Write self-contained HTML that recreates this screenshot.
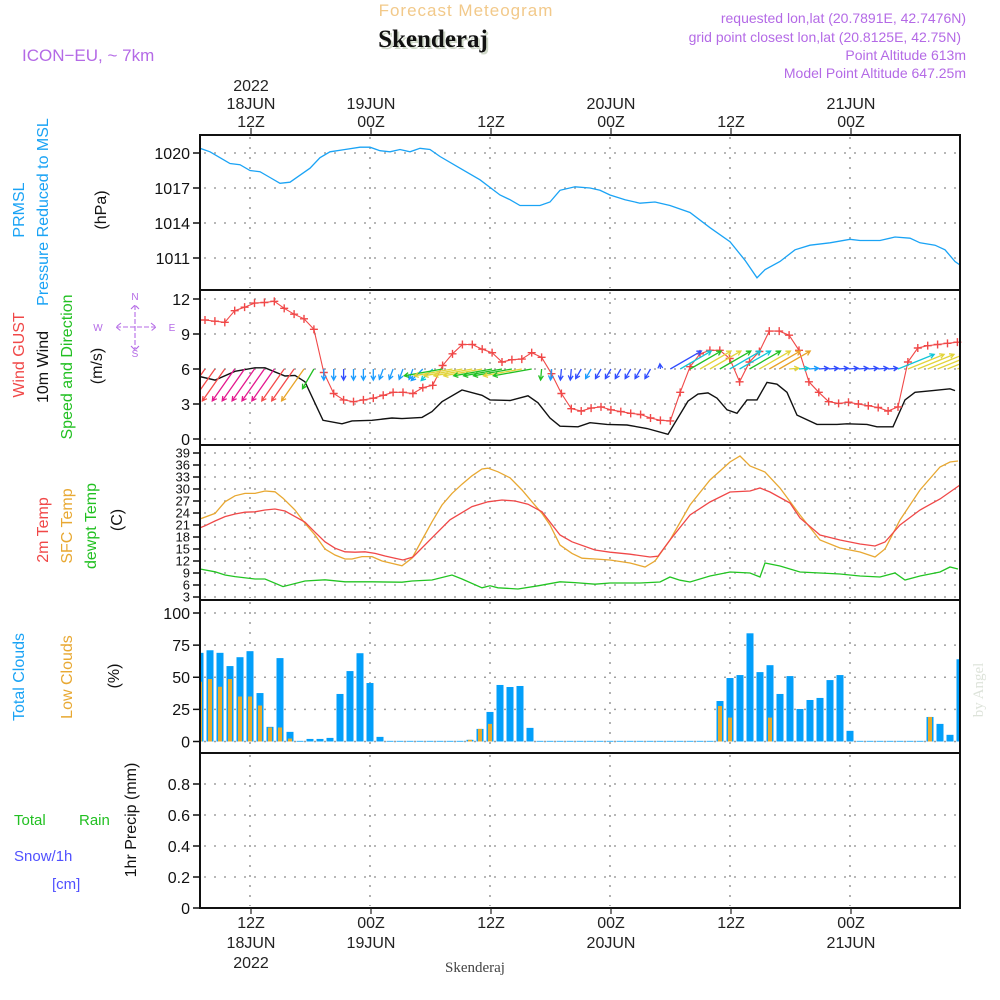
<!DOCTYPE html>
<html><head><meta charset="utf-8">
<style>
html,body{margin:0;padding:0;background:#fff;}
svg{display:block;font-family:"Liberation Sans",sans-serif;}
</style></head>
<body>
<svg id="chart" width="1000" height="1000" viewBox="0 0 1000 1000" xmlns="http://www.w3.org/2000/svg">
<text x="466" y="16" font-size="17" fill="#f2c98a" text-anchor="middle" letter-spacing="1">Forecast Meteogram</text>
<text x="435" y="49" font-size="25" font-weight="bold" fill="#cfd8c8" text-anchor="middle" font-family="Liberation Serif, serif">Skenderaj</text>
<text x="433" y="47" font-size="25" font-weight="bold" fill="#111" text-anchor="middle" font-family="Liberation Serif, serif">Skenderaj</text>
<text x="22" y="61" font-size="17" fill="#b46ae6">ICON−EU, ~ 7km</text>
<g font-size="14" fill="#b46ae6" text-anchor="end">
<text x="966" y="23">requested lon,lat (20.7891E, 42.7476N)</text>
<text x="961" y="42">grid point closest lon,lat (20.8125E, 42.75N)</text>
<text x="966" y="60">Point Altitude 613m</text>
<text x="966" y="78">Model Point Altitude 647.25m</text>
</g>
<g id="layer"></g>
<text x="983" y="690" font-size="15" fill="#dde3da" text-anchor="middle" font-family="Liberation Serif, serif" transform="rotate(-90 983 690)">by Angel</text>
</svg>
<script>
// ---- data (hours since 07Z 18JUN 2022) ----
const timeTickHours = [5, 17, 29, 41, 53, 65];
const topTickLabels = [["2022","18JUN","12Z"],["","19JUN","00Z"],["","","12Z"],["","20JUN","00Z"],["","","12Z"],["","21JUN","00Z"]];
const bottomTickLabels = [["12Z","18JUN","2022"],["00Z","19JUN",""],["12Z","",""],["00Z","20JUN",""],["12Z","",""],["00Z","21JUN",""]];

const pressHours = [0,1,2,3,4,5,6,7,8,9,10,11,12,13,14.5,16,17,18,19,20,21,22,23,24,26,28,30,31,32,33,34,35,36,37.5,39,40,41,42.5,44,45.5,47,49,51,53,54.5,55.7,56.5,58,59.5,61,63,65,66,68,69.5,71,72,73.5,74.5,75.5,76];
const pressVals = [1020.4,1020.1,1019.6,1019.1,1019.0,1018.5,1018.4,1017.9,1017.4,1017.5,1018.1,1018.7,1019.6,1020.1,1020.3,1020.5,1020.5,1020.2,1020.1,1020.3,1020.1,1020.4,1020.3,1019.7,1018.7,1017.7,1016.4,1016.0,1015.5,1015.5,1015.5,1015.8,1016.8,1017.1,1017.0,1016.8,1016.4,1016.0,1015.7,1015.8,1015.5,1014.9,1013.6,1012.4,1010.8,1009.3,1010.0,1010.7,1011.7,1012.1,1012.3,1012.6,1012.5,1012.5,1012.8,1012.7,1012.3,1012.1,1011.7,1010.7,1010.4];
const pressTicks = [1020,1017,1014,1011];

const windHours = [0,1.5,3.5,5.5,6.5,8.5,9.5,10.5,12.3,14.2,15.2,17.2,19.2,20.2,22.2,23.2,24.2,26.2,28.2,29,31,32.8,33.8,35,36,37.8,39,40.7,42.7,44.7,46.8,48.8,49.8,50.8,51.7,52.7,53.7,54.7,55.7,56.7,57.7,58.7,59.7,61.7,63.7,64.7,66.7,67.7,69.3,70.5,71.5,73.3,75,75.5];
const windSpeed = [5.35,5.05,5.8,6.1,6.1,5.4,5.45,4.9,1.6,1.3,1.55,1.6,1.8,1.75,1.85,2.35,3.2,4.2,3.75,3.35,3.3,3.7,3.1,1.8,1.1,1.05,1.4,1.25,1.2,0.9,0.4,3.25,3.85,3.95,3.5,2.5,2.2,3.35,3.35,4.85,4.7,4.0,2.05,1.25,1.25,1.3,1.25,1.05,1.05,3.35,4.0,4.15,4.3,4.15];
const gustVals = [10.2,10.1,10.0,11.0,11.3,11.65,11.7,11.8,11.2,10.7,10.3,9.4,5.7,3.9,3.35,3.2,3.35,3.5,3.75,4.0,4.0,3.9,4.4,4.6,6.3,7.3,8.1,8.1,7.7,7.4,6.6,6.8,6.85,7.4,7.0,5.6,3.9,2.6,2.4,2.65,2.75,2.5,2.35,2.2,2.1,1.8,1.6,1.55,4.0,6.2,7.3,7.6,7.6,6.9,4.9,6.6,7.5,9.25,9.25,8.9,7.6,4.9,4.0,3.2,3.05,3.15,3.0,2.85,2.7,2.4,2.75,6.6,7.8,8.0,8.1,8.2,8.3];
const arrowDir = [235,235,235,235,235,235,235,235,235,235,235,240,270,270,270,270,270,270,250,250,250,250,225,225,190,190,190,190,190,190,190,190,190,190,265,265,265,265,240,240,240,240,240,240,240,240,95,30,30,30,30,30,30,30,30,30,30,30,30,5,5,5,5,5,5,5,5,5,5,5,22,22,22,22,22,22,22];
const arrowSpeed = [6,6,6,6,6,6,6,6,6,6,6,3.5,1.7,1.7,1.7,1.7,1.7,1.7,1.7,1.7,1.7,1.7,2.5,2.5,6,6,6,6,6,6,6,6,6,6,1.7,1.7,1.7,1.7,1.7,1.7,1.7,1.7,1.7,1.7,1.7,1.7,0.8,5.5,5.5,5.5,5.5,5.5,5.5,5.5,5.5,5.5,5.5,5.5,5.5,1.5,1.5,1.5,1.5,1.5,1.5,1.5,1.5,1.5,1.5,1.5,6,6,6,6,6,6,6];
const windTicks = [0,3,6,9,12];

const t2Hours = [0,0.5,1.5,2.5,3.5,4.5,5.5,6.5,7.5,8.5,9.5,10.5,11.5,12.5,13.5,14.5,15.5,16.5,17.5,18.5,19.5,20.3,21.3,23,25,27.2,28.8,30.2,31.5,32.8,34.2,36,37.2,39.5,41,43,45,45.8,47,49,51,53,55,56,57,59,60,62,64,66,67.5,68.5,70,72,74,76];
const t2Vals = [20.3,20.8,22,23.1,23.75,24.2,24.3,24.75,25,24.5,23.1,21.7,19.2,16.8,15.2,14.3,14.2,14.3,13.9,13.25,12.7,12.25,13,17.3,22.3,25.6,26.8,27.25,27,26.2,24.3,18.5,16.8,14.75,14.2,13.7,13,13.2,17.25,23.5,26.75,29.25,29.5,30.25,29.25,26.5,22.75,18.5,17.25,16.25,15.75,16.75,21,24.75,27.5,31];
const sfcHours = [0,1.5,2.5,3.5,4.5,5.5,6.5,7.5,8.3,9.5,10.5,11.5,12.5,13.5,14.5,15.2,16.2,17.2,18.2,19.2,20.2,21.2,22.2,23.2,24.2,25.2,26.2,27.2,28.2,28.8,29.8,31,32.2,33.2,34.2,35,36,37.2,38.2,39.5,41,43,44.5,45.5,47,49,51,53,54,55,56.5,58,60,62,64,66,67.5,68.5,70,72,74,75,75.8];
const sfcVals = [22.5,23.9,26.8,28.3,28.9,28.9,29.5,29.3,27.7,24.75,21.4,18.5,15,13.5,12.5,12.5,13.1,13.1,12,11.4,10.8,12.7,17.25,21.8,26,28.9,31.2,33.3,35,35.2,34.3,32.8,29.75,26.8,23.9,21,16,13.9,12.7,12.5,12.25,11.5,10.5,12,17.25,26,32.25,36.75,38.25,35.75,34.25,30.25,23.5,17.25,15.25,14.25,13,15,22.25,29.75,35.5,36.75,37];
const dewHours = [0,1.5,2.5,3.5,5.5,6.5,8.3,10.5,12.5,14.5,17.2,20.2,21.2,23.2,25.2,26.2,28.2,29,29.8,31.8,33.8,36,37.5,39.5,41,44,46,47,48,49,51,53,55,56,56.5,58,60,62,64,66,68,69.5,70.5,72,74,75,75.8];
const dewVals = [10,9.3,8.5,8.1,7.5,7.5,5.6,7,7.3,6.8,6.8,6.7,7,7.25,8.5,7.5,5.3,5.8,5.3,5,5.8,6.8,6.6,6.2,6.5,6.5,6.75,8,7.2,6.75,8.25,9.25,9,8,11.5,10.75,9.25,9,8.75,8.25,8,9,7.25,8.25,9.25,10.5,10];
const tempTicks = [3,6,9,12,15,18,21,24,27,30,33,36,39];

const cloudTotal = [69,71,69,58.7,65.6,70.3,37.7,11.4,64.9,7.5,0.5,2,2,2.8,37,54.8,68.7,45.5,3.6,0.5,0.5,0.5,0.5,0.5,0.5,0.5,0.5,1.3,9.8,23,44,42.4,43.2,10.6,0.5,0.5,0.5,0.5,0.5,0.5,0.5,0.5,0.5,0.5,0.5,0.5,0.5,0.5,0.5,0.5,0.5,0.5,31.5,49.4,51.7,84.2,54,59.4,37,50.9,25.3,32.3,33.9,47.8,51.7,8.3,0.5,0.5,0.5,0.5,0.5,0.5,0.5,19.1,13.7,5.2,64];
const cloudLow = [46.5,48.6,42.6,48.6,35,35,28,10.9,10.9,2.3,0,0,0,0,0,0,0,0,0,0,0,0,0,0,0,0,0,1.3,9.8,13.7,0,0,0,0,0,0,0,0,0,0,0,0,0,0,0,0,0,0,0,0,0,0,27.6,18.6,0,0,0,18.6,0,0,0,0,0,0,0,0,0,0,0,0,0,0,0,19.1,0,0,0];
const cloudTicks = [0,25,50,75,100];
const precipTicks = [0,0.2,0.4,0.6,0.8];

// ---- scales ----
const X0 = 200, X1 = 960;
const xs = h => X0 + 10 * h;
const yP = p => 153 + (1020 - p) * 35 / 3;
const yW = v => 439 - v * 35 / 3;
const yT = t => 597 - (t - 3) * 4;
const yC = c => 741.5 - c * 1.285;
const yR = r => 908 - r * 155;
const panels = [[135,290,'pressure-panel'],[290,445,'wind-panel'],[445,600,'temp-panel'],[600,753,'cloud-panel'],[753,908,'precip-panel']];

const NS = 'http://www.w3.org/2000/svg';
const layer = document.getElementById('layer');
function mk(tag, attrs, parent) {
  const e = document.createElementNS(NS, tag);
  for (const k in attrs) e.setAttribute(k, attrs[k]);
  (parent || layer).appendChild(e);
  return e;
}
function txt(x, y, s, attrs, parent) {
  const e = mk('text', Object.assign({x: x, y: y}, attrs || {}), parent);
  e.textContent = s;
  return e;
}

const defs = mk('defs', {});
const cp = mk('clipPath', {id: 'plotclip'}, defs);
mk('rect', {x: X0, y: 135, width: X1 - X0, height: 773}, cp);

const grid = mk('g', {stroke: '#a0a0a0', 'stroke-width': 1.6, 'stroke-dasharray': '2 8', fill: 'none'});


panels.forEach(p => {
  timeTickHours.forEach(h => {
    const l = mk('line', {x1: xs(h), x2: xs(h), y1: p[0] + 2, y2: p[1] - 2}, grid);
    
    
  });
});
function hgrid(ticks, f) {
  ticks.forEach(t => {
    const l = mk('line', {x1: X0 + 4, x2: X1, y1: f(t), y2: f(t)}, grid);
    
    
  });
}
hgrid(pressTicks, yP); hgrid(windTicks, yW); hgrid(tempTicks, yT); hgrid(cloudTicks, yC); hgrid(precipTicks, yR);

function yaxis(ticks, f, name, fs, fmt) {
  const g = mk('g', {'font-size': fs, fill: '#111', 'text-anchor': 'end'});
  
  
  ticks.forEach(t => {
    const y = f(t);
    mk('line', {x1: 193, x2: X0, y1: y, y2: y, stroke: '#111', 'stroke-width': 1.5}, g);
    const tl = txt(190, y + fs * 0.36, fmt ? fmt(t) : String(t), {}, g);
    
    
  });
}
yaxis(pressTicks, yP, 'pressure-y-axis', 16);
yaxis(windTicks, yW, 'wind-y-axis', 16);
yaxis(tempTicks, yT, 'temp-y-axis', 13);
yaxis(cloudTicks, yC, 'cloud-y-axis', 16);
yaxis(precipTicks, yR, 'precip-y-axis', 16, t => t === 0 ? '0' : t.toFixed(1));

function series(hours, vals, f, color, name, width) {
  const d = hours.map((h, i) => (i ? 'L' : 'M') + xs(h).toFixed(1) + ' ' + f(vals[i]).toFixed(1)).join(' ');
  const p = mk('path', {d: d, fill: 'none', stroke: color, 'stroke-width': width || 1.3, 'clip-path': 'url(#plotclip)'});
  
  
  return p;
}

series(pressHours, pressVals, yP, '#1aa3f5', 'pressure-line', 1.3);
series(windHours, windSpeed, yW, '#111', 'wind-speed-line', 1.4);

const gustHour = i => 0.5 + i * 0.99;
const gHours = gustVals.map((v, i) => gustHour(i));
series(gHours, gustVals, yW, '#f04848', 'gust-line', 1.1);
const gm = mk('g', {stroke: '#f04848', 'stroke-width': 1.4});


gustVals.forEach((v, i) => {
  const x = xs(gustHour(i)), y = yW(v);
  const m = mk('path', {d: `M${x-4} ${y}H${x+4}M${x} ${y-4}V${y+4}`}, gm);
  
  
});

function interp(hs, vs, h) {
  if (h <= hs[0]) return vs[0];
  for (let i = 1; i < hs.length; i++) if (h <= hs[i]) {
    const t = (h - hs[i-1]) / (hs[i] - hs[i-1]);
    return vs[i-1] + t * (vs[i] - vs[i-1]);
  }
  return vs[vs.length - 1];
}
function speedColor(v) {
  if (v < 1.35) return '#2f4cff';
  if (v < 1.9) return '#1a9cff';
  if (v < 2.6) return '#12c6d6';
  if (v < 3.5) return '#22c022';
  if (v < 4.3) return '#e2d43a';
  if (v < 5.0) return '#e8a428';
  if (v < 5.6) return '#f44a4a';
  return '#e4188e';
}
const ag = mk('g', {'stroke-width': 1.3, fill: 'none', 'clip-path': 'url(#plotclip)'});


const baseY = yW(6);
arrowDir.forEach((dir, i) => {
  const h = gustHour(i);
  const x = xs(h);
  const L = arrowSpeed[i] * 6.5;
  const a = dir * Math.PI / 180;
  const tx = x + L * Math.cos(a), ty = baseY - L * Math.sin(a);
  const hl = 5;
  const a1 = a + Math.PI - 0.5, a2 = a + Math.PI + 0.5;
  const col = speedColor(interp(windHours, windSpeed, h));
  const d = `M${x.toFixed(1)} ${baseY.toFixed(1)}L${tx.toFixed(1)} ${ty.toFixed(1)}M${(tx+hl*Math.cos(a1)).toFixed(1)} ${(ty-hl*Math.sin(a1)).toFixed(1)}L${tx.toFixed(1)} ${ty.toFixed(1)}L${(tx+hl*Math.cos(a2)).toFixed(1)} ${(ty-hl*Math.sin(a2)).toFixed(1)}`;
  const p = mk('path', {d: d, stroke: col}, ag);
  
  
});

series(sfcHours, sfcVals, yT, '#e8a832', 'sfc-temp-line', 1.3);
series(t2Hours, t2Vals, yT, '#f04848', 'temp-2m-line', 1.3);
series(dewHours, dewVals, yT, '#22c422', 'dewpoint-line', 1.3);

const cg = mk('g', {'clip-path': 'url(#plotclip)'});


cloudTotal.forEach((c, i) => {
  const x = xs(i), y = yC(c);
  const b = mk('rect', {x: x - 3.5, y: y, width: 7, height: Math.max(0.8, yC(0) - y), fill: '#039ffa'}, cg);
  
  
});
cloudLow.forEach((c, i) => {
  if (c <= 0) return;
  const x = xs(i), y = yC(c);
  const b = mk('rect', {x: x - 2, y: y, width: 4, height: yC(0) - y, fill: '#e6aa2c'}, cg);
  
  
});

panels.forEach(p => {
  const r = mk('rect', {x: X0, y: p[0], width: X1 - X0, height: p[1] - p[0], fill: 'none', stroke: '#111', 'stroke-width': 2});
  
  
});

const tg = mk('g', {'font-size': 16, fill: '#222', 'text-anchor': 'middle'});


timeTickHours.forEach((h, i) => {
  const x = xs(h) + 1;
  mk('line', {x1: x, x2: x, y1: 128, y2: 135, stroke: '#222', 'stroke-width': 1.2}, tg);
  [91, 109, 127].forEach((y, j) => {
    const s = topTickLabels[i][j];
    if (s) {
      const t = txt(x, y, s, {}, tg);
      
      
    }
  });
});
const bg = mk('g', {'font-size': 16, fill: '#222', 'text-anchor': 'middle'});


timeTickHours.forEach((h, i) => {
  const x = xs(h) + 1;
  mk('line', {x1: x, x2: x, y1: 908, y2: 914, stroke: '#222', 'stroke-width': 1.2}, bg);
  [928, 948, 968].forEach((y, j) => {
    const s = bottomTickLabels[i][j];
    if (s) {
      const t = txt(x, y, s, {}, bg);
      
      
    }
  });
});
const bt = txt(475, 972, 'Skenderaj', {'font-size': 15, fill: '#444', 'text-anchor': 'middle', 'font-family': 'Liberation Serif, serif'});



function vlabel(x, y, s, color, name, fs) {
  const t = txt(x, y, s, {'font-size': fs || 16, fill: color, 'text-anchor': 'middle', transform: `rotate(-90 ${x} ${y})`});
  
  
}
vlabel(24, 210, 'PRMSL', '#1aa3f5', 'prmsl-label');
vlabel(48, 212, 'Pressure Reduced to MSL', '#1aa3f5', 'pressure-title');
vlabel(106, 210, '(hPa)', '#111', 'pressure-unit');
vlabel(24, 355, 'Wind GUST', '#f04848', 'gust-title');
vlabel(48, 367, '10m Wind', '#111', 'wind-title');
vlabel(72, 367, 'Speed and Direction', '#22c022', 'direction-title');
vlabel(102, 366, '(m/s)', '#111', 'wind-unit');
vlabel(48, 530, '2m Temp', '#f04848', 'temp-2m-title');
vlabel(72, 526, 'SFC Temp', '#e8a832', 'sfc-temp-title');
vlabel(96, 526, 'dewpt Temp', '#22c022', 'dewpoint-title');
vlabel(122, 520, '(C)', '#111', 'temp-unit');
vlabel(24, 677, 'Total Clouds', '#1aa3f5', 'total-cloud-title');
vlabel(72, 677, 'Low Clouds', '#e8a832', 'low-cloud-title');
vlabel(119, 676, '(%)', '#111', 'cloud-unit');
vlabel(136, 820, '1hr Precip (mm)', '#111', 'precip-title');
const pl1 = txt(14, 825, 'Total', {'font-size': 15, fill: '#22c022'});


const pl1b = txt(79, 825, 'Rain', {'font-size': 15, fill: '#22c022'});


const pl2 = txt(14, 861, 'Snow/1h', {'font-size': 15, fill: '#5050ff'});


const pl3 = txt(52, 889, '[cm]', {'font-size': 15, fill: '#5050ff'});



const cmp = mk('g', {fill: '#b46ae6', stroke: 'none', 'font-size': 10, 'text-anchor': 'middle'});


txt(135, 300, 'N', {}, cmp);
txt(135, 357, 'S', {}, cmp);
txt(98, 331, 'W', {}, cmp);
txt(172, 331, 'E', {}, cmp);
mk('path', {d: 'M116 327H156M135 305V350M121 323L116 327L121 331M151 323L156 327L151 331M131 309L135 305L139 309M131 346L135 350L139 346', stroke: '#b46ae6', 'stroke-width': 1.1, fill: 'none', 'stroke-dasharray': '5 2'}, cmp);
</script>
</body></html>
